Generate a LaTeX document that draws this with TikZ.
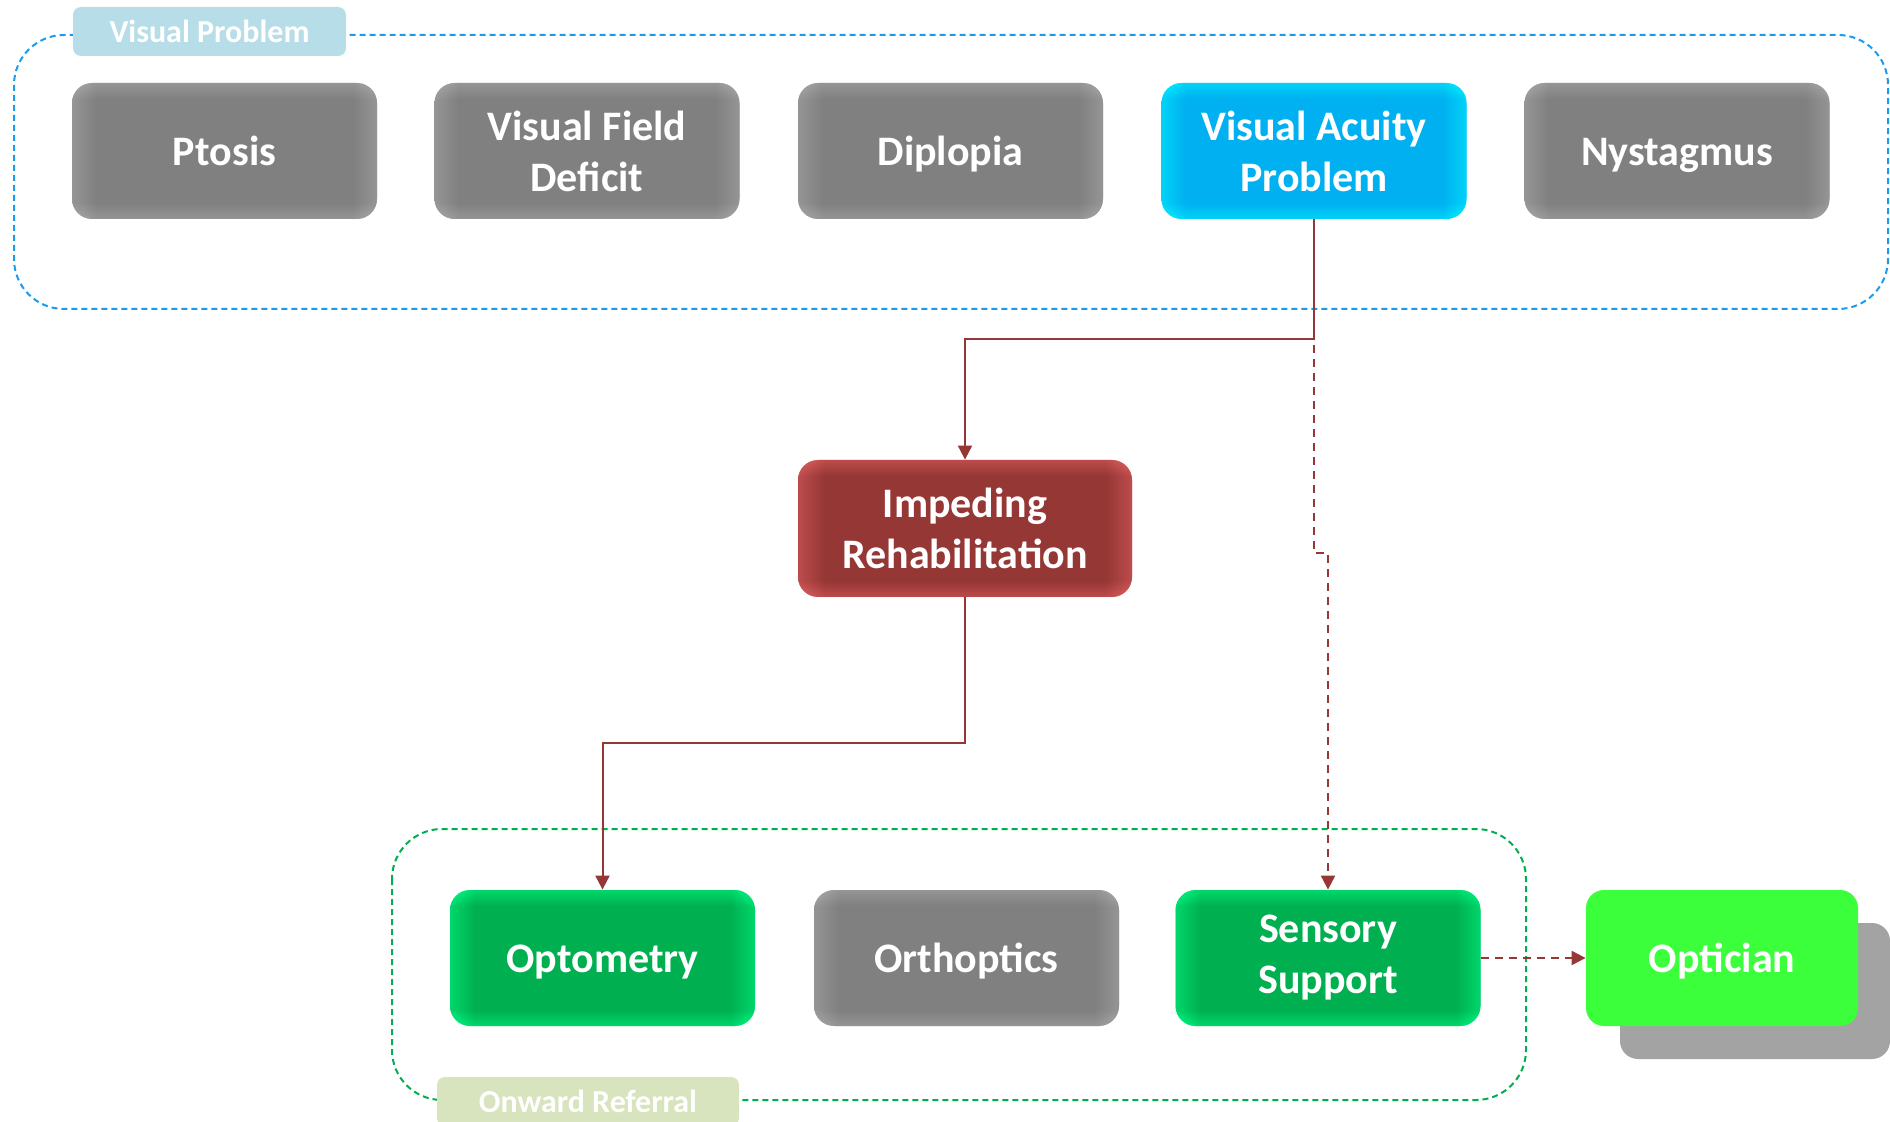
\documentclass[tikz,border=0pt]{standalone}
\usepackage{fontspec}
\setmainfont{Carlito}
\usetikzlibrary{arrows.meta}
\definecolor{gbase}{HTML}{808080}
\definecolor{gedge}{HTML}{ABABAB}
\definecolor{bbase}{HTML}{00B0F0}
\definecolor{bedge}{HTML}{00F6FF}
\definecolor{rbase}{HTML}{953735}
\definecolor{redge}{HTML}{E46262}
\definecolor{nbase}{HTML}{00B050}
\definecolor{nedge}{HTML}{00FF88}
\definecolor{optgreen}{HTML}{3CFF3C}
\definecolor{conred}{HTML}{953735}
\definecolor{bluedash}{HTML}{1A9BF0}
\definecolor{greendash}{HTML}{00B050}
\definecolor{vplabel}{HTML}{B7DEE8}
\definecolor{orlabel}{HTML}{D7E4BD}
\pgfdeclareverticalshading{grayv}{100bp}{color(0bp)=(gedge); color(25bp)=(gedge); color(31bp)=(gbase); color(69bp)=(gbase); color(75bp)=(gedge); color(100bp)=(gedge)}
\pgfdeclarehorizontalshading{grayh}{100bp}{color(0bp)=(gedge); color(25bp)=(gedge); color(29bp)=(gbase); color(71bp)=(gbase); color(75bp)=(gedge); color(100bp)=(gedge)}
\pgfdeclareverticalshading{bluev}{100bp}{color(0bp)=(bedge); color(25bp)=(bedge); color(31bp)=(bbase); color(69bp)=(bbase); color(75bp)=(bedge); color(100bp)=(bedge)}
\pgfdeclarehorizontalshading{blueh}{100bp}{color(0bp)=(bedge); color(25bp)=(bedge); color(29bp)=(bbase); color(71bp)=(bbase); color(75bp)=(bedge); color(100bp)=(bedge)}
\pgfdeclareverticalshading{redv}{100bp}{color(0bp)=(redge); color(25bp)=(redge); color(31bp)=(rbase); color(69bp)=(rbase); color(75bp)=(redge); color(100bp)=(redge)}
\pgfdeclarehorizontalshading{redh}{100bp}{color(0bp)=(redge); color(25bp)=(redge); color(29bp)=(rbase); color(71bp)=(rbase); color(75bp)=(redge); color(100bp)=(redge)}
\pgfdeclareverticalshading{greenv}{100bp}{color(0bp)=(nedge); color(25bp)=(nedge); color(31bp)=(nbase); color(69bp)=(nbase); color(75bp)=(nedge); color(100bp)=(nedge)}
\pgfdeclarehorizontalshading{greenh}{100bp}{color(0bp)=(nedge); color(25bp)=(nedge); color(29bp)=(nbase); color(71bp)=(nbase); color(75bp)=(nedge); color(100bp)=(nedge)}
\tikzset{
  box/.style={minimum width=152.5pt, minimum height=68pt, inner sep=0pt,
    rounded corners=10pt, text=white, align=center,
    font=\bfseries\fontsize{21}{25.5}\selectfont},
  oneline/.style={text height=15.5pt, text depth=0.8pt},
  graybox/.style={box, shade, shading=grayv, postaction={shade, shading=grayh, fill opacity=0.5}},
  bluebox/.style={box, shade, shading=bluev, postaction={shade, shading=blueh, fill opacity=0.5}},
  redbox/.style={box, shade, shading=redv, postaction={shade, shading=redh, fill opacity=0.5}},
  greenbox/.style={box, shade, shading=greenv, postaction={shade, shading=greenh, fill opacity=0.5}},
  optbox/.style={box, minimum width=136pt, rounded corners=9pt, fill=optgreen},
  shadowbox/.style={minimum width=135pt, minimum height=68pt, inner sep=0pt, rounded corners=9pt, fill=black!36},
  grouplabel/.style={minimum height=24.5pt, inner sep=0pt, rounded corners=4pt, text=white,
    font=\bfseries\fontsize{16}{19}\selectfont},
  container/.style={rounded corners=25pt, line width=1pt, dash pattern=on 3pt off 2pt},
  con/.style={draw=conred, line width=1pt, -{Triangle[length=7pt,width=7pt]}},
  dcon/.style={con, dash pattern=on 4pt off 3pt},
}
\begin{document}
\begin{tikzpicture}[x=0.5pt,y=-0.5pt]
\useasboundingbox (0,0) rectangle (1890,1122);
% containers
\draw[container, draw=bluedash] (14,35) rectangle (1888,309);
\draw[container, draw=greendash] (392,829) rectangle (1526,1100);
\node[grouplabel, fill=vplabel, minimum width=136.5pt] (vpl) at (209.5,31.5) {Visual Problem};
\node[grouplabel, fill=orlabel, minimum width=151pt] (orl) at (588,1101.5) {Onward Referral};
% top row
\node[graybox, oneline] (pt) at (224.5,151) {Ptosis};
\node[graybox] (vf) at (587,151) {Visual Field\\Deficit};
\node[graybox, oneline] (dp) at (950.5,151) {Diplopia};
\node[bluebox] (va) at (1314,151) {Visual Acuity\\Problem};
\node[graybox, oneline] (ny) at (1677,151) {Nystagmus};
% middle
\node[redbox, minimum width=167pt, minimum height=68.5pt] (imp) at (965,528.5) {Impeding\\Rehabilitation};
% bottom row
\node[greenbox, oneline] (om) at (602.5,958) {Optometry};
\node[graybox, oneline] (or) at (966.5,958) {Orthoptics};
\node[greenbox] (ss) at (1328,958) {Sensory\\Support};
\node[shadowbox] (osh) at (1755,991) {};
\node[optbox, oneline] (opt) at (1722,958) {Optician};
% connectors
\coordinate (jog) at (1314,553);
\draw[dcon] (va.south) -- (jog) -| (ss.north);
\draw[con] (va.south) -- ++(0,120) -| (imp.north);
\draw[con] (imp.south) -- ++(0,146) -| (om.north);
\draw[dcon] (ss.east) -- (opt.west);
\end{tikzpicture}
\end{document}
